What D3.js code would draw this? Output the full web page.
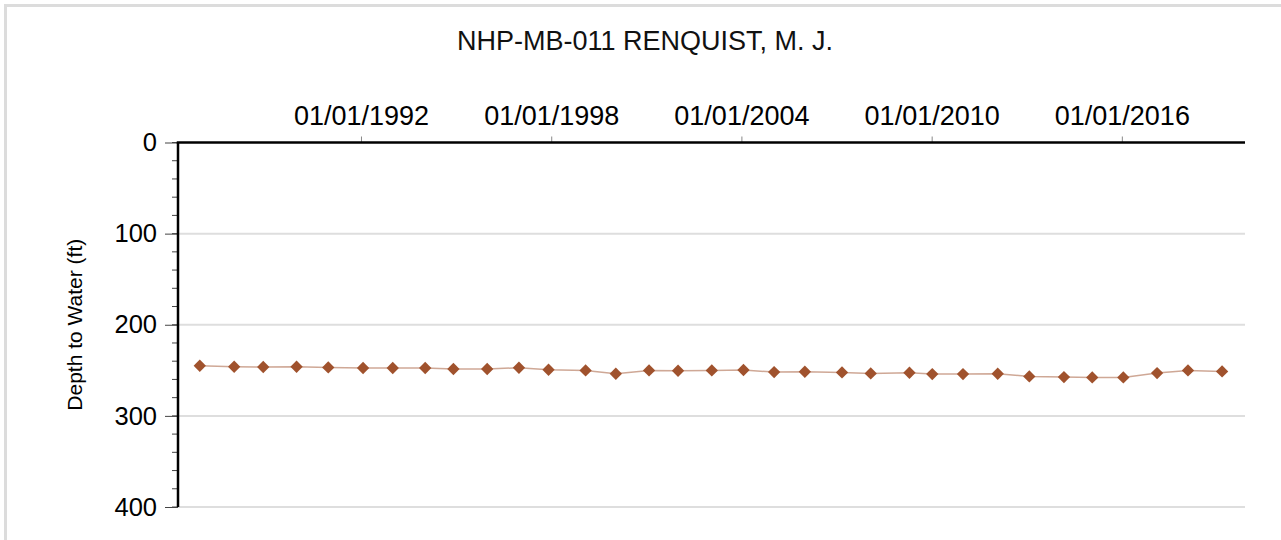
<!DOCTYPE html>
<html>
<head>
<meta charset="utf-8">
<script src="https://cdn.jsdelivr.net/npm/d3@7"></script>
<style>
  body { margin: 0; background: #fff; }
  svg { display: block; font-family: Arial, "Liberation Sans", sans-serif; }
</style>
</head>
<body>
<svg id="chart" width="1281" height="540"></svg>
<script>
var title = "NHP-MB-011 RENQUIST, M. J.";
var yLabel = "Depth to Water (ft)";

// measurement dates and depth to water (ft)
var dates = [
    "1986-12-01", "1988-01-01", "1988-12-01", "1989-12-20", "1990-12-20",
    "1992-01-25", "1993-01-01", "1994-01-10", "1994-12-01", "1995-12-25",
    "1996-12-25", "1997-12-01", "1999-02-01", "2000-01-15", "2001-02-01",
    "2002-01-01", "2003-01-25", "2004-01-25", "2005-01-12", "2006-01-01",
    "2007-03-05", "2008-01-30", "2009-04-20", "2010-01-08", "2010-12-28",
    "2012-02-01", "2013-01-30", "2014-03-05", "2015-01-25", "2016-01-18",
    "2017-02-10", "2018-02-01", "2019-03-01"
];
var depths = [
    245.0, 246.1, 246.4, 246.1, 246.8,
    247.5, 247.5, 247.5, 248.6, 248.6,
    247.2, 249.4, 250.1, 253.8, 250.1,
    250.5, 250.1, 249.7, 251.9, 251.6,
    252.3, 253.4, 252.7, 254.1, 254.1,
    253.8, 256.7, 257.4, 257.8, 257.8,
    253.0, 250.1, 251.2
];

var xTicks = ["1992-01-01", "1998-01-01", "2004-01-01", "2010-01-01", "2016-01-01"];
var yTicks = [0, 100, 200, 300, 400];
var yMinor = d3.range(0, 401, 20);

var parse = d3.timeParse("%Y-%m-%d")
    , fmt = d3.timeFormat("%m/%d/%Y");

var svg = d3.select("#chart")
    , margin = {top: 142.5, right: 36, bottom: 33, left: 178}
    , width = svg.attr("width") - margin.left - margin.right
    , height = svg.attr("height") - margin.top - margin.bottom;

// outer frame
svg.append("rect")
    .attr("x", 5.5).attr("y", 5.5)
    .attr("width", 1300).attr("height", 600)
    .attr("fill", "#fff")
    .attr("stroke", "#dcdcdc")
    .attr("stroke-width", 3);

svg.append("text")
    .attr("x", 645).attr("y", 50)
    .attr("text-anchor", "middle")
    .attr("font-size", 27)
    .attr("fill", "#111")
    .text(title);

var g = svg.append("g").attr("transform", "translate(" + margin.left + "," + margin.top + ")");

var x = d3.scaleTime()
    .domain([parse("1986-03-25"), parse("2019-11-20")])
    .range([0, width]);
var y = d3.scaleLinear().domain([0, 400]).range([0, height]);

// grid
g.append("g")
    .selectAll("line")
    .data(yTicks.slice(1))
    .join("line")
    .attr("x1", 0).attr("x2", width)
    .attr("y1", function(d) { return y(d); })
    .attr("y2", function(d) { return y(d); })
    .attr("stroke", "#dedede")
    .attr("stroke-width", 2);

// minor y ticks
g.append("g")
    .selectAll("line")
    .data(yMinor)
    .join("line")
    .attr("x1", -6).attr("x2", 0)
    .attr("y1", function(d) { return y(d); })
    .attr("y2", function(d) { return y(d); })
    .attr("stroke", "#444")
    .attr("stroke-width", 1);

var yAxis = g.append("g")
    .attr("class", "axis axis--y")
    .call(d3.axisLeft(y).tickValues(yTicks).tickSize(13).tickPadding(8));
yAxis.select(".domain").remove();
yAxis.selectAll(".tick line").attr("stroke", "#444");
yAxis.selectAll(".tick text")
    .attr("font-size", 25.5)
    .attr("fill", "#000")
    .attr("font-family", "Arial, 'Liberation Sans', sans-serif");

var xAxis = g.append("g")
    .attr("class", "axis axis--x")
    .call(d3.axisTop(x).tickValues(xTicks.map(parse)).tickFormat(fmt).tickSize(6).tickPadding(12));
xAxis.select(".domain").remove();
xAxis.selectAll(".tick line").attr("stroke", "#888");
xAxis.selectAll(".tick text")
    .attr("font-size", 27)
    .attr("fill", "#000")
    .attr("font-family", "Arial, 'Liberation Sans', sans-serif");

// axis lines
g.append("line")
    .attr("x1", 0).attr("x2", 0).attr("y1", 0).attr("y2", height)
    .attr("stroke", "#000").attr("stroke-width", 2.5);
g.append("line")
    .attr("x1", -1.25).attr("x2", width).attr("y1", 0).attr("y2", 0)
    .attr("stroke", "#000").attr("stroke-width", 2.5);

svg.append("text")
    .attr("transform", "translate(82," + (margin.top + y(200)) + ") rotate(-90)")
    .attr("text-anchor", "middle")
    .attr("font-size", 21)
    .attr("fill", "#000")
    .text(yLabel);

var data = dates.map(function(d, i) { return {date: parse(d), depth: depths[i]}; });

var line = d3.line()
    .x(function(d) { return x(d.date); })
    .y(function(d) { return y(d.depth); });

g.append("path")
    .attr("d", line(data))
    .attr("fill", "none")
    .attr("stroke", "#a0522d")
    .attr("stroke-opacity", 0.5)
    .attr("stroke-width", 1.5);

g.append("g")
    .selectAll("path")
    .data(data)
    .join("path")
    .attr("d", d3.symbol().type(d3.symbolSquare).size(76))
    .attr("transform", function(d) {
        return "translate(" + x(d.date) + "," + y(d.depth) + ") rotate(45)";
    })
    .attr("fill", "#a0522d");
</script>
</body>
</html>
